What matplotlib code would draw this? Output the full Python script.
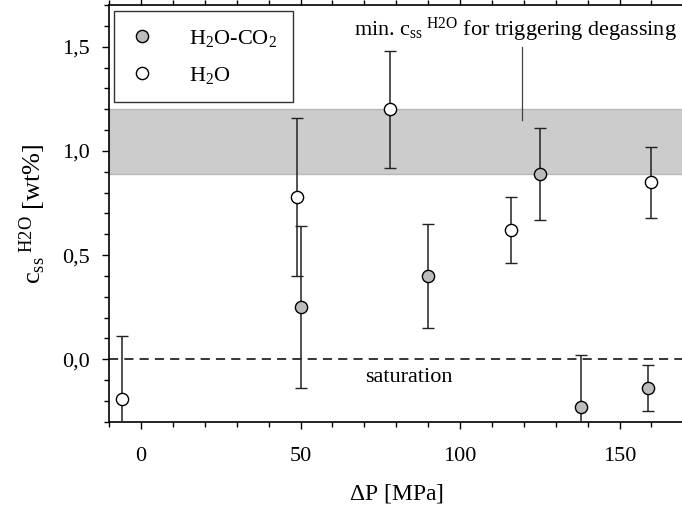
import matplotlib
matplotlib.use('Agg')
import matplotlib.pyplot as plt
from matplotlib.lines import Line2D
from matplotlib.ticker import MultipleLocator, FuncFormatter

plt.rcParams['font.family'] = ['Liberation Serif', 'DejaVu Serif']
plt.rcParams['mathtext.fontset'] = 'custom'
plt.rcParams['mathtext.rm'] = 'Liberation Serif'
plt.rcParams['mathtext.it'] = 'Liberation Serif:italic'

# H2O-CO2 experiments
dp_co2 = [50, 90, 125, 138, 159]
c_co2 = [0.25, 0.40, 0.89, -0.23, -0.14]
err_co2 = [0.39, 0.25, 0.22, 0.25, 0.11]

# pure H2O experiments
dp_h2o = [-6, 49, 78, 116, 160]
c_h2o = [-0.19, 0.78, 1.20, 0.62, 0.85]
err_h2o = [0.30, 0.38, 0.28, 0.16, 0.17]

# range of minimum supersaturation for degassing
band_lo, band_hi = 0.89, 1.20

grey = '#bcbcbc'

fig = plt.figure(figsize=(6.82, 5.13), dpi=100)
ax = fig.add_axes([0.160, 0.178, 0.842, 0.812])

ax.axhspan(band_lo, band_hi, facecolor='#cccccc', edgecolor='#b8b8b8', linewidth=1, zorder=0)
ax.axhline(0, color='black', linestyle=(0, (6, 4)), linewidth=1.1, zorder=1)

ekw = dict(fmt='o', markersize=8.8, markeredgecolor='black', markeredgewidth=1.0,
           ecolor='#222222', elinewidth=1.1, capsize=4.5, capthick=1.1, zorder=3)
ax.errorbar(dp_h2o, c_h2o, yerr=err_h2o, markerfacecolor='white', **ekw)
ax.errorbar(dp_co2, c_co2, yerr=err_co2, markerfacecolor=grey, **ekw)

ax.set_xlim(-10, 170)
ax.set_ylim(-0.3, 1.7)
ax.xaxis.set_major_locator(MultipleLocator(50))
ax.xaxis.set_minor_locator(MultipleLocator(10))
ax.yaxis.set_major_locator(MultipleLocator(0.5))
ax.yaxis.set_minor_locator(MultipleLocator(0.1))
ax.yaxis.set_major_formatter(FuncFormatter(lambda v, p: f'{v:.1f}'.replace('.', ',')))
ax.tick_params(which='both', direction='out', top=True, right=False, labelsize=16, width=1.0)
ax.tick_params(which='major', length=5)
ax.tick_params(which='minor', length=3.5)
ax.tick_params(axis='x', which='major', pad=13)
ax.tick_params(axis='y', which='major', pad=9)
for s in ax.spines.values():
    s.set_linewidth(1.2)

ax.set_xlabel(r'$\Delta$P [MPa]', fontsize=17, labelpad=12)
ax.set_ylabel(r'c$_{\mathregular{ss}}$$^{\mathregular{\ H2O}}$ [wt%]', fontsize=19, labelpad=10)

ax.text(168, 1.555, r'min. c$_{\mathregular{ss}}$$^{\mathregular{\ H2O}}$ for triggering degassing',
        fontsize=16, ha='right', va='baseline')
ax.plot([119.3, 119.3], [1.15, 1.50], color='#444444', linewidth=0.9)
ax.text(84, -0.09, 'saturation', fontsize=16, ha='center', va='center')

handles = [
    Line2D([], [], linestyle='none', marker='o', markersize=8.8, markerfacecolor=grey,
           markeredgecolor='black', markeredgewidth=1.0),
    Line2D([], [], linestyle='none', marker='o', markersize=8.8, markerfacecolor='white',
           markeredgecolor='black', markeredgewidth=1.0),
]
labels = [r'H$_2$O-CO$_2$', r'H$_2$O']
leg = ax.legend(handles, labels, loc='upper left', bbox_to_anchor=(0.009, 0.985),
                fontsize=16, frameon=True, fancybox=False, edgecolor='black',
                handlelength=1.0, handletextpad=1.6, borderpad=0.75, labelspacing=0.7,
                borderaxespad=0)
leg.get_frame().set_linewidth(1.0)

fig.savefig('out.png', dpi=100)
